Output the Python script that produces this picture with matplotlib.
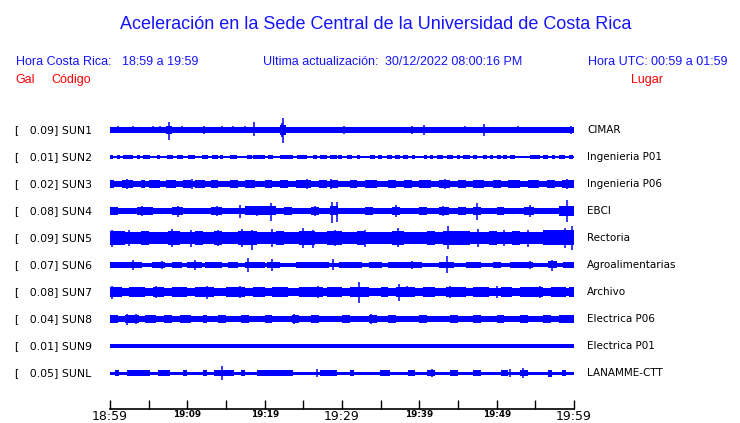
import matplotlib
matplotlib.use("Agg")
import matplotlib.pyplot as plt

# ---------------- data ----------------
# time in minutes after 18:59 ; amplitudes in display units (row spacing = 27)
codes = ["SUN1", "SUN2", "SUN3", "SUN4", "SUN5", "SUN6", "SUN7", "SUN8", "SUN9", "SUNL"]
peaks = ["0.09", "0.01", "0.02", "0.08", "0.09", "0.07", "0.08", "0.04", "0.01", "0.05"]
places = ["CIMAR", "Ingenieria P01", "Ingenieria P06", "EBCI", "Rectoria",
          "Agroalimentarias", "Archivo", "Electrica P06", "Electrica P01", "LANAMME-CTT"]
tick_minutes = [0, 5, 10, 15, 20, 25, 30, 35, 40, 45, 50, 55, 60]
tick_labels = ["18:59", "", "19:09", "", "19:19", "", "19:29", "", "19:39", "", "19:49", "", "19:59"]
big_ticks = ["18:59", "19:29", "19:59"]

# background noise half-amplitude for each station
base_amp = [2.6, 0.8, 3.0, 3.1, 6.0, 1.6, 3.6, 3.0, 1.8, 1.5]

# bursts: (start, end, half amplitude)
bursts_sun1 = [(7.3, 8.0, 4), (22.0, 22.8, 5)]
bursts_sun2 = [(0, 0.4, 2), (0.9, 1.3, 2), (1.7, 3.0, 2), (3.5, 3.9, 2), (4.3, 5.2, 2), (6.1, 6.5, 2),
               (7.4, 8.2, 2), (8.7, 9.5, 2), (10.1, 11.0, 2), (11.9, 12.7, 2), (13.2, 14.0, 2),
               (14.2, 14.6, 2), (15.5, 16.4, 2), (17.7, 18.4, 2), (18.5, 20.0, 2), (20.4, 21.1, 2),
               (22.0, 23.7, 2), (24.2, 25.5, 2), (26.3, 26.8, 2), (27.2, 28.1, 2), (28.5, 29.4, 2),
               (29.5, 30.0, 2), (30.6, 31.3, 2), (31.9, 32.3, 2), (33.6, 34.3, 2), (34.6, 35.2, 2),
               (35.8, 36.5, 2), (36.9, 37.5, 2), (37.9, 38.5, 2), (39.0, 39.4, 2), (40.6, 41.0, 2),
               (41.4, 41.8, 2), (42.3, 43.1, 2), (43.6, 44.4, 2), (44.9, 45.3, 2), (45.6, 46.6, 2),
               (46.9, 47.5, 2), (48.2, 48.8, 2), (49.1, 49.5, 2), (50.0, 50.5, 2), (50.8, 51.3, 2),
               (51.7, 52.4, 2), (54.3, 55.6, 2), (56.0, 56.6, 2), (57.2, 57.5, 2), (58.0, 58.8, 2),
               (59.4, 59.9, 2)]
bursts_sun3 = [(0, 0.5, 3.6), (1.5, 3.0, 3.6), (4, 4.5, 3.6), (5, 6.5, 3.6), (7.3, 8.5, 3.6),
               (9.5, 10.5, 3.6), (11, 12.3, 3.6), (13, 14, 3.6), (15.5, 16.5, 3.6), (17.5, 18.8, 3.6),
               (20, 21, 3.6), (22, 23, 3.6), (24, 26, 3.6), (27, 28, 3.6), (28.5, 29.5, 3.6),
               (31, 32, 3.6), (33, 34.5, 3.6), (36, 37, 3.6), (38, 39, 3.6), (40, 41.5, 3.6),
               (42.5, 44, 3.6), (45, 46, 3.6), (47, 48.3, 3.6), (49.5, 50.5, 3.6), (51.5, 53, 3.6),
               (54, 55.5, 3.6), (56.5, 57.5, 3.6), (58.5, 60, 3.6)]
bursts_sun4 = [(0, 1, 4), (3.5, 5.5, 4), (8, 9.5, 4), (13, 14.5, 4), (17.5, 21.5, 4.5),
               (22.5, 23.5, 4), (26, 27, 4), (28.5, 29.5, 4.5), (33, 34, 4), (36.5, 37.5, 4),
               (40, 41, 4), (42.5, 43.8, 4), (45, 46, 4), (47, 48, 4), (50, 51, 4),
               (53.5, 54.8, 4), (58, 60, 5)]
bursts_sun5 = [(0, 2, 7), (4, 5, 7), (7.5, 9, 7), (11, 12, 7), (13.5, 14.5, 7),
               (16.5, 19, 7), (21.5, 22.5, 7), (24.5, 26.5, 7), (28, 30, 7), (32, 33, 7),
               (36.5, 38, 7), (41, 42, 7), (43, 46.5, 7), (49, 50, 7), (52, 53, 7),
               (56, 60, 7.5)]
bursts_sun6 = [(0, 4.1, 3.0), (5.4, 7.1, 3.0), (8, 9.3, 2.8), (10, 11.9, 3.2), (12.3, 14.5, 3.0),
               (15.3, 16.6, 2.8), (17.5, 20, 3.2), (20.3, 22, 3.0), (24, 28.3, 2.8), (29.6, 32.6, 2.8),
               (33.5, 35.2, 3.0), (36, 40.3, 3.0), (42.5, 44.5, 3.2), (46, 48, 2.8), (49.5, 50.5, 2.8),
               (51.7, 54.7, 3.0), (56.6, 57.8, 3.5), (58.6, 60, 2.8)]
bursts_sun7 = [(0, 1.5, 5), (2.5, 4.5, 5), (5.5, 7, 5), (8, 10, 5), (11, 13.5, 5),
               (15, 17.5, 5), (18.5, 20, 5), (21, 23, 5), (24.5, 27.5, 5), (28, 30, 5),
               (31, 33.5, 5), (35, 36, 5), (37, 39.5, 5), (40.5, 42, 5), (43.5, 46, 5),
               (47, 49, 5), (50.5, 52, 5), (53, 56, 5), (57, 59, 5), (59.3, 60, 5)]
bursts_sun8 = [(0, 1, 3.8), (1.9, 3.8, 4.3), (4.5, 6, 3.8), (7, 8, 3.8), (9, 10.5, 3.8), (12, 12.5, 3.8),
               (14, 15, 3.8), (17, 18, 3.8), (20, 21, 3.8), (23.5, 24.5, 3.8), (26, 27, 3.8), (30, 31, 3.8),
               (33.5, 34.5, 3.8), (36, 37, 3.8), (40, 41, 3.8), (44, 45, 3.8), (47, 48, 3.8), (50, 51, 3.8),
               (53, 54, 3.8), (56, 57, 3.8), (58, 60, 3.8)]
bursts_sun9 = []
bursts_sunl = [(0.7, 1.1, 3), (2.2, 5.2, 3), (6.2, 7.8, 3), (9.5, 10, 3), (12, 12.5, 3),
               (13.5, 16, 3), (17, 17.5, 3), (19, 23.6, 3), (27.2, 29.4, 3), (31, 31.5, 3),
               (34.9, 36.2, 3), (38.5, 39.5, 3), (41, 42, 3), (44, 45, 3), (47, 48, 3),
               (50.5, 51.5, 3), (53, 54, 3), (56.6, 57.2, 3.5), (58.5, 59, 3)]

# spikes: (time, up, down)
spikes_sun1 = [(1.0, 3.5, 3.5), (3.0, 3.5, 3.5), (5.6, 3.5, 3.5), (6.5, 3.5, 3.5), (7.6, 8, 10),
               (9.3, 3.5, 3.5), (12.2, 4, 4), (14.5, 3.5, 3.5), (15.9, 3.5, 3.5), (17.5, 3.5, 3.5),
               (18.6, 8, 6), (19.8, 3, 3), (20.8, 3, 3), (22.2, 7, 7), (22.4, 12, 13),
               (28.7, 2.5, 3), (30.3, 4, 4), (35.9, 3, 3), (39.1, 4, 4), (40.6, 5, 5),
               (45.9, 3.5, 3.5), (48.4, 6, 6), (50.9, 3, 3), (52.8, 3.5, 3.5), (59.6, 4, 4)]
spikes_sun2 = []
spikes_sun3 = [(2.2, 5, 5), (10.6, 5, 5), (25.5, 5, 5), (28.6, 5, 5), (43.3, 5, 5), (59.1, 5, 5)]
spikes_sun4 = [(4.1, 5, 5), (5.2, 4, 4), (8.8, 5.3, 5.7), (13.8, 5, 5), (16.8, 6, 7), (19.0, 5, 5),
               (20.8, 8, 10), (22.9, 4, 4), (26.5, 5, 5), (28.7, 9, 11.7), (29.3, 9, 11),
               (37.0, 6, 6), (43.1, 5, 5), (47.4, 8, 9), (54.3, 6, 6), (59.1, 11, 11)]
spikes_sun5 = [(0.3, 8, 9), (2.5, 8, 8), (8.0, 9, 9), (10.5, 8, 9), (14, 8, 8), (17.1, 9, 9),
               (18.4, 8, 12), (21, 9, 9), (25.0, 10, 10), (26.3, 8, 10), (29.1, 8, 8), (33, 8, 9),
               (37.3, 10, 9), (43.7, 12, 11), (47.6, 9, 9), (51, 8, 8), (54, 8, 9),
               (58.9, 10, 10), (59.8, 12, 12)]
spikes_sun6 = [(3.0, 5, 5), (6.7, 4, 4), (11, 5, 5), (17.8, 7, 7), (21, 6, 6), (28.8, 6, 5),
               (39, 4, 4), (43.6, 9, 8), (54.3, 4, 4), (57.2, 5, 6)]
spikes_sun7 = [(0.2, 6, 7), (6, 6, 6), (12.5, 6.3, 7), (16.8, 6, 6), (26.9, 6, 6), (32.2, 9.6, 11),
               (37.4, 8, 9), (38.4, 6, 5), (44, 6, 6), (50, 6, 6), (55.6, 6, 6)]
spikes_sun8 = [(2.2, 5, 6), (3.3, 5, 5), (23.8, 5, 5), (33.8, 5, 5)]
spikes_sun9 = []
spikes_sunl = [(14.5, 6.7, 6.7), (26.8, 4.3, 4.3), (41.6, 4, 4), (51.7, 4, 4), (53.4, 5, 5)]

all_bursts = [bursts_sun1, bursts_sun2, bursts_sun3, bursts_sun4, bursts_sun5,
              bursts_sun6, bursts_sun7, bursts_sun8, bursts_sun9, bursts_sunl]
all_spikes = [spikes_sun1, spikes_sun2, spikes_sun3, spikes_sun4, spikes_sun5,
              spikes_sun6, spikes_sun7, spikes_sun8, spikes_sun9, spikes_sunl]

# ---------------- figure ----------------
W, H = 740, 423
fig = plt.figure(figsize=(W / 100, H / 100), dpi=100)
BLUE = "#0000ff"
TXT_BLUE = "#1414ff"
RED = "#ff0000"
ROW = 27.0


def fx(px):
    return px / W


def fy(py):
    return 1 - py / H


# trace axes: x 110..574 px, y 115..409 px
ax = fig.add_axes([fx(110), fy(409), (574 - 110) / W, (409 - 115) / H])
ax.set_xlim(0, 60)
ax.set_ylim(279, -15)
for s in ["top", "left", "right"]:
    ax.spines[s].set_visible(False)
ax.spines["bottom"].set_linewidth(1.2)
ax.set_yticks([])
ax.set_xticks(tick_minutes)
ax.set_xticklabels(tick_labels)
ax.tick_params(axis="x", direction="in", length=6.5, width=1.0, pad=1.0)
for lab in ax.get_xticklabels():
    if lab.get_text() in big_ticks:
        lab.set_fontsize(9)
        lab.set_family("DejaVu Sans")
    else:
        lab.set_fontsize(6.3)
        lab.set_fontweight("bold")

for i in range(len(codes)):
    c = i * ROW
    b = base_amp[i]
    ax.fill_between([0, 60], [c - b, c - b], [c + b, c + b], color=BLUE, lw=0)
    for (s, e, a) in all_bursts[i]:
        ax.fill_between([s, e], [c - a, c - a], [c + a, c + a], color=BLUE, lw=0)
    if all_spikes[i]:
        ts = [sp[0] for sp in all_spikes[i]]
        lo = [c - sp[1] for sp in all_spikes[i]]
        hi = [c + sp[2] for sp in all_spikes[i]]
        ax.vlines(ts, lo, hi, color=BLUE, lw=1.1)
    yy = fy(130 + i * ROW)
    fig.text(fx(15), yy, "[   %s] %s" % (peaks[i], codes[i]), fontsize=7.8,
             family="DejaVu Sans", va="center", ha="left", color="black")
    fig.text(fx(587), yy, places[i], fontsize=7.5, family="DejaVu Sans",
             va="center", ha="left", color="black")

# header
hf = "Liberation Sans"
fig.text(fx(376), fy(29), "Aceleración en la Sede Central de la Universidad de Costa Rica",
         fontsize=13, family=hf, color=TXT_BLUE, ha="center", va="baseline")
fig.text(fx(15.5), fy(65), "Hora Costa Rica:", fontsize=9, family=hf, color=TXT_BLUE, va="baseline")
fig.text(fx(122), fy(65), "18:59 a 19:59", fontsize=9, family=hf, color=TXT_BLUE, va="baseline")
fig.text(fx(263), fy(65), "Ultima actualización:", fontsize=9, family=hf, color=TXT_BLUE, va="baseline")
fig.text(fx(385), fy(65), "30/12/2022 08:00:16 PM", fontsize=9, family=hf, color=TXT_BLUE, va="baseline")
fig.text(fx(588), fy(65), "Hora UTC:", fontsize=9, family=hf, color=TXT_BLUE, va="baseline")
fig.text(fx(651), fy(65), "00:59 a 01:59", fontsize=9, family=hf, color=TXT_BLUE, va="baseline")
fig.text(fx(15.5), fy(83), "Gal", fontsize=9, family=hf, color=RED, va="baseline")
fig.text(fx(51), fy(83), "Código", fontsize=9, family=hf, color=RED, va="baseline")
fig.text(fx(631), fy(83), "Lugar", fontsize=9, family=hf, color=RED, va="baseline")

fig.savefig("out.png", dpi=100, facecolor="white")
